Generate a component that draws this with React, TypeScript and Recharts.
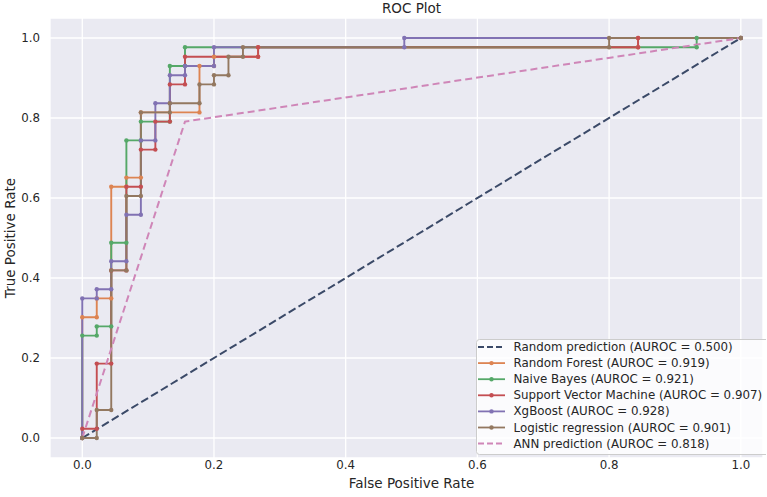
import React from 'react';
import { LineChart, Line, XAxis, YAxis, CartesianGrid, Legend } from 'recharts';

const FONT = '"DejaVu Sans", sans-serif';
const TEXT = '#262626';

const xTicks = [0, 0.2, 0.4, 0.6, 0.8, 1.0];
const yTicks = [0, 0.2, 0.4, 0.6, 0.8, 1.0];

const modelNames = [
  'Random prediction',
  'Random Forest',
  'Naive Bayes',
  'Support Vector Machine',
  'XgBoost',
  'Logistic regression',
  'ANN prediction',
];
const aurocs = ['0.500', '0.919', '0.921', '0.907', '0.928', '0.901', '0.818'];
const colors = ['#3b4a68', '#dd8452', '#55a868', '#c44e52', '#8172b3', '#937860', '#cf86b8'];

const randomFpr = [0, 1];
const randomTpr = [0, 1];

const rfFpr = [0, 0, 0.022, 0.022, 0.044, 0.044, 0.067, 0.067, 0.089, 0.089, 0.178, 0.178, 0.2, 0.2, 0.267, 0.267, 0.844, 0.844, 1];
const rfTpr = [0, 0.302, 0.302, 0.349, 0.349, 0.628, 0.628, 0.651, 0.651, 0.814, 0.814, 0.93, 0.93, 0.953, 0.953, 0.977, 0.977, 1, 1];

const nbFpr = [0, 0, 0.022, 0.022, 0.044, 0.044, 0.067, 0.067, 0.089, 0.089, 0.133, 0.133, 0.156, 0.156, 0.933, 0.933, 1];
const nbTpr = [0, 0.256, 0.256, 0.279, 0.279, 0.488, 0.488, 0.744, 0.744, 0.791, 0.791, 0.93, 0.93, 0.977, 0.977, 1, 1];

const svmFpr = [0, 0, 0.022, 0.022, 0.044, 0.044, 0.067, 0.067, 0.089, 0.089, 0.111, 0.111, 0.133, 0.133, 0.156, 0.156, 0.267, 0.267, 0.844, 0.844, 1];
const svmTpr = [0, 0.023, 0.023, 0.186, 0.186, 0.419, 0.419, 0.628, 0.628, 0.721, 0.721, 0.791, 0.791, 0.884, 0.884, 0.953, 0.953, 0.977, 0.977, 1, 1];

const xgbFpr = [0, 0, 0.022, 0.022, 0.044, 0.044, 0.067, 0.067, 0.089, 0.089, 0.111, 0.111, 0.133, 0.133, 0.156, 0.156, 0.2, 0.2, 0.489, 0.489, 1];
const xgbTpr = [0, 0.349, 0.349, 0.372, 0.372, 0.442, 0.442, 0.558, 0.558, 0.744, 0.744, 0.837, 0.837, 0.907, 0.907, 0.93, 0.93, 0.977, 0.977, 1, 1];

const lrFpr = [0, 0.022, 0.022, 0.044, 0.044, 0.067, 0.067, 0.089, 0.089, 0.133, 0.133, 0.178, 0.178, 0.2, 0.2, 0.222, 0.222, 0.244, 0.244, 0.8, 0.8, 1];
const lrTpr = [0, 0, 0.07, 0.07, 0.419, 0.419, 0.605, 0.605, 0.814, 0.814, 0.837, 0.837, 0.884, 0.884, 0.907, 0.907, 0.953, 0.953, 0.977, 0.977, 1, 1];

const annFpr = [0, 0.156, 1];
const annTpr = [0, 0.791, 1];

const fprs = [randomFpr, rfFpr, nbFpr, svmFpr, xgbFpr, lrFpr, annFpr];
const tprs = [randomTpr, rfTpr, nbTpr, svmTpr, xgbTpr, lrTpr, annTpr];
const dashed = [true, false, false, false, false, false, true];

const series = modelNames.map((name, i) => ({
  name,
  label: `${name} (AUROC = ${aurocs[i]})`,
  color: colors[i],
  dashed: dashed[i],
  data: fprs[i].map((x, k) => ({ x, y: tprs[i][k] })),
}));

const XTick = (props: any) => (
  <text x={props.x} y={465} textAnchor="middle" dominantBaseline="central" fontSize={11.8} fontFamily={FONT} fill={TEXT}>
    {Number(props.payload.value).toFixed(1)}
  </text>
);

const YTick = (props: any) => (
  <text x={40} y={props.y} textAnchor="end" dominantBaseline="central" fontSize={11.8} fontFamily={FONT} fill={TEXT}>
    {Number(props.payload.value).toFixed(1)}
  </text>
);

const LegendBox = () => (
  <svg width={290} height={117} style={{ display: 'block' }}>
    <rect x={0.5} y={0.5} width={300} height={115} rx={3} fill="rgba(255,255,255,0.8)" stroke="#cccccc" strokeWidth={1} />
    {series.map((s, i) => {
      const cy = 8 + 16.1 * i;
      return (
        <g key={s.name}>
          <line
            x1={2}
            x2={29}
            y1={cy}
            y2={cy}
            stroke={s.color}
            strokeWidth={s.dashed ? 2 : 1.8}
            strokeDasharray={s.dashed ? '6 3' : undefined}
          />
          {!s.dashed && <circle cx={15.5} cy={cy} r={2.2} fill={s.color} />}
          <text x={37.5} y={cy} dominantBaseline="central" fontSize={11.85} fontFamily={FONT} fill={TEXT}>
            {s.label}
          </text>
        </g>
      );
    })}
  </svg>
);

export default function App() {
  return (
    <div style={{ position: 'absolute', left: 0, top: 0, width: 767, height: 497, background: '#fff' }}>
      <div
        style={{
          position: 'absolute',
          left: 0,
          top: 0,
          width: 823,
          textAlign: 'center',
          lineHeight: '17px',
          fontSize: 13.5,
          fontFamily: FONT,
          color: TEXT,
          zIndex: 2,
        }}
      >
        ROC Plot
      </div>
      <LineChart width={767} height={497} margin={{ top: 18, right: 4, bottom: 0, left: 0 }}>
        <CartesianGrid fill="#EAEAF2" stroke="#ffffff" strokeWidth={1.3} />
        <XAxis
          dataKey="x"
          type="number"
          domain={[-0.049, 1.0337]}
          ticks={xTicks}
          allowDataOverflow
          axisLine={false}
          tickLine={false}
          height={39}
          tick={XTick}
          label={{
            content: () => (
              <text x={411.5} y={483} textAnchor="middle" dominantBaseline="central" fontSize={13.5} fontFamily={FONT} fill={TEXT}>
                False Positive Rate
              </text>
            ),
          }}
        />
        <YAxis
          type="number"
          domain={[-0.05, 1.05]}
          ticks={yTicks}
          allowDataOverflow
          axisLine={false}
          tickLine={false}
          width={50}
          tick={YTick}
          label={{
            content: () => (
              <text
                x={10}
                y={238}
                transform="rotate(-90 10 238)"
                textAnchor="middle"
                dominantBaseline="central"
                fontSize={13.5}
                fontFamily={FONT}
                fill={TEXT}
              >
                True Positive Rate
              </text>
            ),
          }}
        />
        {series.map((s) => (
          <Line
            key={s.name}
            name={s.label}
            data={s.data}
            dataKey="y"
            type="linear"
            stroke={s.color}
            strokeWidth={s.dashed ? 2 : 1.9}
            strokeDasharray={s.dashed ? (s.name === 'ANN prediction' ? '7 4' : '8 3.5') : undefined}
            dot={s.dashed ? false : { r: 2.2, fill: s.color, stroke: 'none' }}
            activeDot={false}
            isAnimationActive={false}
          />
        ))}
        <Legend
          layout="horizontal"
          verticalAlign="middle"
          align="center"
          content={LegendBox}
          wrapperStyle={{ position: 'absolute', left: 476, top: 339, width: 290, height: 117 }}
        />
      </LineChart>
    </div>
  );
}
